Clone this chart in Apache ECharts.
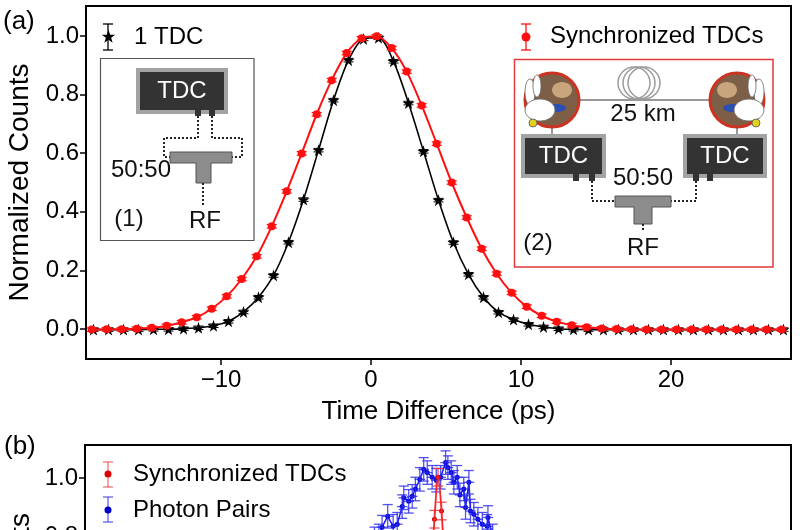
<!DOCTYPE html>
<html>
<head>
<meta charset="utf-8">
<script src="https://cdn.jsdelivr.net/npm/echarts@6/dist/echarts.min.js"></script>
<style>
html, body { margin: 0; padding: 0; background: #fff; }
#main { width: 800px; height: 530px; }
</style>
</head>
<body>
<div id="main"></div>
<script>
// (a) 1 TDC: time difference (ps) and normalized counts
var blackT = [-18.5, -17.5, -16.5, -15.5, -14.5, -13.5, -12.5, -11.5, -10.5, -9.5, -8.5, -7.5, -6.5, -5.5, -4.5, -3.5, -2.5, -1.5, -0.5,
	0.5, 1.5, 2.5, 3.5, 4.5, 5.5, 6.5, 7.5, 8.5, 9.5, 10.5, 11.5, 12.5, 13.5, 14.5, 15.5, 16.5, 17.5, 18.5, 19.5,
	20.5, 21.5, 22.5, 23.5, 24.5, 25.5, 26.5, 27.5];
var blackV = [0.000, 0.000, 0.000, 0.000, 0.001, 0.001, 0.003, 0.006, 0.013, 0.028, 0.060, 0.110, 0.184, 0.297, 0.442, 0.610, 0.780, 0.916, 0.988,
	0.992, 0.912, 0.770, 0.606, 0.440, 0.296, 0.188, 0.110, 0.059, 0.034, 0.018, 0.009, 0.003, 0.001, 0.000, 0.000, 0.000, 0.000, 0.000, 0.000,
	0.000, 0.000, 0.000, 0.000, 0.000, 0.000, 0.000, 0.000];
// (a) Synchronized TDCs
var redT = [-18.62, -17.62, -16.62, -15.62, -14.62, -13.62, -12.62, -11.62, -10.62, -9.62, -8.62, -7.62, -6.62, -5.62, -4.62, -3.62, -2.62, -1.62, -0.62,
	0.38, 1.38, 2.38, 3.38, 4.38, 5.38, 6.38, 7.38, 8.38, 9.38, 10.38, 11.38, 12.38, 13.38, 14.38, 15.38, 16.38, 17.38, 18.38, 19.38,
	20.38, 21.38, 22.38, 23.38, 24.38, 25.38, 26.38, 27.38];
var redV = [0.000, 0.001, 0.001, 0.003, 0.006, 0.013, 0.025, 0.042, 0.071, 0.113, 0.172, 0.249, 0.351, 0.470, 0.599, 0.732, 0.848, 0.940, 0.990,
	0.997, 0.957, 0.877, 0.762, 0.632, 0.500, 0.381, 0.275, 0.190, 0.125, 0.078, 0.047, 0.027, 0.015, 0.008, 0.004, 0.002, 0.001, 0.000, 0.000,
	0.000, 0.000, 0.000, 0.000, 0.000, 0.000, 0.000, 0.000];
var errA = 0.006;

// (b) Synchronized TDCs and photon pairs
var syncT = [-16, -14, -12, -10, -8, -6, -4, -2, 0, 2, 4, 6, 8, 10, 12, 14, 16];
var syncV = [0.003, 0.010, 0.030, 0.088, 0.205, 0.410, 0.668, 0.857, 1.000, 0.885, 0.660, 0.400, 0.200, 0.082, 0.028, 0.009, 0.003];
var pairT = [-60, -55, -50, -45, -42, -39, -36, -33.5, -31.7, -28.5, -25.4, -23.1, -20.3, -19.4, -16.6, -14.6, -12.8, -10.3,
	-8.1, -6.1, -3.3, -1.0, 1.5, 4.3, 5.6, 7.5, 9.0, 10.9, 12.4, 14.6, 15.6, 17.5, 18.4, 20.3, 22.6, 25.1, 27.9, 28.3,
	31, 34, 37, 40, 43, 48, 53, 58];
var pairV = [0.50, 0.56, 0.62, 0.68, 0.72, 0.76, 0.79, 0.80, 0.83, 0.867, 0.833, 0.84, 0.90, 0.93, 0.918, 0.935, 0.96, 0.993,
	1.027, 1.016, 1.0, 0.99, 1.0, 1.05, 1.033, 1.016, 0.983, 1.0, 0.94, 0.96, 0.897, 0.983, 0.885, 0.874, 0.857, 0.84, 0.833, 0.863,
	0.80, 0.77, 0.73, 0.70, 0.66, 0.60, 0.54, 0.48];
var errSync = 0.03, errPair = 0.04, xErrPair = 3;

var FONT = 'Liberation Sans, Arial, sans-serif';
var RED = '#ff1010';
var STAR = 'path://M50,0L61.2,34.5L97.6,34.5L68.2,55.9L79.4,90.5L50,69.1L20.6,90.5L31.8,55.9L2.4,34.5L38.8,34.5Z';

function pairs(xs, ys){
	var out = [];
	for(var i = 0; i < xs.length; i++){
		out.push([xs[i], ys[i]]);
	}
	return out;
}
function withErr(xs, ys, e){
	var out = [];
	for(var i = 0; i < xs.length; i++){
		out.push([xs[i], ys[i], e]);
	}
	return out;
}

// error bars: vertical with caps, optional horizontal bar
function errorBar(color, capW, lw, xErr){
	return function(params, api){
		var x = api.value(0), y = api.value(1), e = api.value(2);
		var top = api.coord([x, y + e]);
		var bot = api.coord([x, y - e]);
		var st = {stroke: color, lineWidth: lw};
		var kids = [
			{type: 'line', shape: {x1: top[0], y1: top[1], x2: bot[0], y2: bot[1]}, style: st},
			{type: 'line', shape: {x1: top[0] - capW, y1: top[1], x2: top[0] + capW, y2: top[1]}, style: st},
			{type: 'line', shape: {x1: bot[0] - capW, y1: bot[1], x2: bot[0] + capW, y2: bot[1]}, style: st}
		];
		if(xErr){
			var l = api.coord([x - xErr, y]), r = api.coord([x + xErr, y]);
			kids.push({type: 'line', shape: {x1: l[0], y1: l[1], x2: r[0], y2: r[1]}, style: st});
		}
		return {type: 'group', children: kids};
	};
}

// graphic helpers
function rect(x, y, w, h, fill, stroke, lw){
	return {type: 'rect', shape: {x: x, y: y, width: w, height: h},
		style: {fill: fill, stroke: stroke || null, lineWidth: lw || 0}};
}
function seg(pts, stroke, lw, dash){
	return {type: 'polyline', shape: {points: pts},
		style: {stroke: stroke, lineWidth: lw, lineDash: dash || null, fill: null}};
}
function txt(x, y, s, size, color, align){
	return {type: 'text', x: x, y: y,
		style: {text: s, fill: color, font: size + 'px ' + FONT, align: align || 'center', verticalAlign: 'middle'}};
}
function circ(cx, cy, r, fill, stroke, lw){
	return {type: 'circle', shape: {cx: cx, cy: cy, r: r},
		style: {fill: fill, stroke: stroke || null, lineWidth: lw || 0}};
}
function ell(cx, cy, rx, ry, fill, stroke){
	return {type: 'ellipse', shape: {cx: cx, cy: cy, rx: rx, ry: ry},
		style: {fill: fill, stroke: stroke || null, lineWidth: stroke ? 0.8 : 0}};
}
function tdc(x, y, w, h){
	return [rect(x, y, w, h, '#a3a3a3'), rect(x + 4, y + 4, w - 8, h - 8, '#333'), txt(x + w / 2, y + h / 2, 'TDC', 24, '#fff')];
}
function splitter(x1, x2, y, sx1, sx2, sy){
	return {type: 'polygon', shape: {points: [[x1, y], [x2, y], [x2, y + 11], [sx2, y + 11], [sx2, sy], [sx1, sy], [sx1, y + 11], [x1, y + 11]]},
		style: {fill: '#8c8c8c', stroke: '#555', lineWidth: 1}};
}
// cartoon node, dir = 1 rabbit on the left side, -1 on the right side
function node(cx, cy, dir){
	return [
		circ(cx, cy, 27, '#7d5f47', '#cc3322', 3),
		ell(cx + 10 * dir, cy - 10, 10, 8, '#c8a57c'),
		ell(cx + 4 * dir, cy + 8, 10, 4, '#2b4fb3'),
		ell(cx - 22 * dir, cy - 8, 5, 13, '#fff', '#666'),
		ell(cx - 15 * dir, cy - 14, 4, 11, '#fff', '#666'),
		ell(cx - 12 * dir, cy + 10, 15, 11, '#fff', '#666'),
		circ(cx - 19 * dir, cy + 23, 4, '#e3d21c', '#555', 0.8)
	];
}

var dot = [2, 2];
var legendStar = [[108.5, 30], [110.15, 34.73], [115.16, 34.84], [111.16, 37.87], [112.61, 42.66], [108.5, 39.8],
	[104.39, 42.66], [105.84, 37.87], [101.84, 34.84], [106.85, 34.73]];
var graphicEls = [].concat(
	// panel labels
	[txt(3, 22, '(a)', 26, '#000', 'left'), txt(4, 447, '(b)', 26, '#000', 'left')],
	// legend (a)
	[seg([[103, 24], [113, 24]], '#000', 1.3), seg([[108, 24], [108, 50]], '#000', 1.3), seg([[103, 50], [113, 50]], '#000', 1.3),
		{type: 'polygon', shape: {points: legendStar}, style: {fill: '#000'}},
		txt(134, 37, '1 TDC', 24, '#000', 'left'),
		seg([[521, 24], [531, 24]], RED, 1.3), seg([[526, 24], [526, 50]], RED, 1.3), seg([[521, 50], [531, 50]], RED, 1.3),
		circ(526, 37, 4.5, RED), txt(550, 36, 'Synchronized TDCs', 24, '#000', 'left')],
	// inset (1)
	[rect(100.5, 58.5, 153.5, 182, '#fff', '#555', 1.2)],
	tdc(136, 68, 92, 46),
	[rect(195, 109, 6, 7, '#333'), rect(209, 109, 6, 7, '#333'),
		seg([[198, 116], [198, 138], [164, 138], [164, 157], [170, 157]], '#222', 2, dot),
		seg([[212, 116], [212, 138], [242, 138], [242, 157], [232, 157]], '#222', 2, dot),
		splitter(170, 232, 152, 196, 211, 183),
		seg([[203, 183], [203, 207]], '#222', 2, dot),
		txt(205, 221, 'RF', 24, '#111'), txt(141, 170, '50:50', 24, '#111'), txt(129, 219, '(1)', 24, '#111')],
	// inset (2)
	[rect(514.5, 59.5, 258.5, 207.5, '#fff', '#e23a3a', 1.5),
		seg([[578, 100], [711, 100]], '#777', 1.5),
		circ(634, 83, 16, null, '#9c9c9c', 1.5), circ(639, 83, 16, null, '#9c9c9c', 1.5), circ(644, 83, 16, null, '#9c9c9c', 1.5),
		txt(643, 114, '25 km', 24, '#111'),
		seg([[552, 127], [552, 134]], '#555', 1.2), seg([[737, 127], [737, 134]], '#555', 1.2)],
	node(552, 100, 1), node(737, 100, -1),
	tdc(521, 134, 85, 44), tdc(683, 134, 84, 44),
	[rect(573, 174, 6, 7, '#333'), rect(589, 174, 6, 7, '#333'), rect(693, 174, 6, 7, '#333'), rect(707, 174, 6, 7, '#333'),
		seg([[592, 181], [592, 201], [615, 201]], '#222', 2, dot),
		seg([[696, 181], [696, 201], [671, 201]], '#222', 2, dot),
		splitter(615, 671, 196, 634, 652, 224),
		seg([[643, 224], [643, 232]], '#222', 2, dot),
		txt(643, 248, 'RF', 24, '#111'), txt(643, 178, '50:50', 24, '#111'), txt(538, 243, '(2)', 24, '#111')],
	// legend (b)
	[seg([[103, 462], [113, 462]], 'rgba(235,70,70,0.75)', 1.3), seg([[108, 462], [108, 487]], 'rgba(235,70,70,0.75)', 1.3),
		seg([[103, 487], [113, 487]], 'rgba(235,70,70,0.75)', 1.3), circ(108, 474, 3.5, '#dd0000'),
		txt(133, 474, 'Synchronized TDCs', 24, '#000', 'left'),
		seg([[103, 497], [113, 497]], 'rgba(60,60,235,0.8)', 1.3), seg([[108, 497], [108, 522]], 'rgba(60,60,235,0.8)', 1.3),
		seg([[103, 522], [113, 522]], 'rgba(60,60,235,0.8)', 1.3), circ(108, 510, 3.5, '#0000cc'),
		txt(133, 510, 'Photon Pairs', 24, '#000', 'left'),
		{type: 'text', x: 21, y: 632, rotation: Math.PI / 2,
			style: {text: 'Normalized Counts', fill: '#000', font: '28px ' + FONT, align: 'center', verticalAlign: 'middle'}}]
);

var hidden = {axisLine: {show: false, onZero: false}, axisTick: {show: false}, axisLabel: {show: false}, splitLine: {show: false}};
var noLine = {show: false, onZero: false};
var tickStyle = {show: true, inside: false, length: 6, lineStyle: {color: '#000', width: 1.5}};

var myChart = echarts.init(document.getElementById('main'));
var option = {
	animation: false,
	backgroundColor: '#fff',
	textStyle: {fontFamily: FONT},
	grid: [
		{left: 86, top: 6, width: 705, height: 353, show: true, borderColor: '#000', borderWidth: 2, outerBoundsMode: 'none'},
		{left: 221, top: 36, width: 450, height: 293, outerBoundsMode: 'none'},
		{left: 85, top: 445, width: 706, height: 355, show: true, borderColor: '#000', borderWidth: 2, outerBoundsMode: 'none'},
		{left: 85, top: 478, width: 706, height: 293, outerBoundsMode: 'none'}
	]
};
option.xAxis = [
	Object.assign({gridIndex: 0, type: 'value', min: -19, max: 28, name: 'Time Difference (ps)', nameLocation: 'middle', nameGap: 40,
		nameTextStyle: {fontSize: 26, color: '#000'}}, hidden),
	{gridIndex: 1, type: 'value', min: -10, max: 20, interval: 10, offset: 30,
		axisLine: noLine, axisTick: tickStyle, splitLine: {show: false},
		axisLabel: {fontSize: 24, color: '#000', margin: 9, formatter: function(v){ return String(v).replace('-', '\u2212'); }}},
	Object.assign({gridIndex: 2, type: 'value', min: -200, max: 200}, hidden),
	Object.assign({gridIndex: 3, type: 'value', min: -200, max: 200}, hidden)
];
option.yAxis = [
	Object.assign({gridIndex: 0, type: 'value', min: -0.1, max: 1.1, name: 'Normalized Counts', nameLocation: 'middle', nameGap: 52,
		nameTextStyle: {fontSize: 28, color: '#000'}}, hidden),
	{gridIndex: 1, type: 'value', min: 0, max: 1, interval: 0.2, offset: 135,
		axisLine: noLine, axisTick: tickStyle, splitLine: {show: false},
		axisLabel: {fontSize: 24, color: '#000', margin: 7, formatter: function(v){ return v.toFixed(1); }}},
	Object.assign({gridIndex: 2, type: 'value', min: -0.1, max: 1.11}, hidden),
	{gridIndex: 3, type: 'value', min: 0, max: 1, interval: 0.2,
		axisLine: noLine, axisTick: tickStyle, splitLine: {show: false},
		axisLabel: {fontSize: 24, color: '#000', margin: 7, formatter: function(v){ return v.toFixed(1); }}}
];
option.series = [
	{name: '1 TDC', type: 'line', xAxisIndex: 0, yAxisIndex: 0, data: pairs(blackT, blackV), smooth: 0.3,
		symbol: STAR, symbolSize: 12, itemStyle: {color: '#000'}, lineStyle: {color: '#000', width: 1.6}, z: 2},
	{type: 'custom', xAxisIndex: 0, yAxisIndex: 0, data: withErr(blackT, blackV, errA), encode: {x: 0, y: 1},
		renderItem: errorBar('#000', 5, 1), z: 3},
	{name: 'Synchronized TDCs', type: 'line', xAxisIndex: 0, yAxisIndex: 0, data: pairs(redT, redV), smooth: 0.3,
		symbol: 'circle', symbolSize: 8, itemStyle: {color: RED}, lineStyle: {color: RED, width: 2}, z: 4},
	{type: 'custom', xAxisIndex: 0, yAxisIndex: 0, data: withErr(redT, redV, errA), encode: {x: 0, y: 1},
		renderItem: errorBar(RED, 5, 1.2), z: 5},
	{name: 'Photon Pairs', type: 'line', xAxisIndex: 2, yAxisIndex: 2, data: pairs(pairT, pairV),
		symbol: 'circle', symbolSize: 5, itemStyle: {color: '#0000cc'}, lineStyle: {color: '#1a1aff', width: 1.5}, z: 2, clip: false},
	{type: 'custom', xAxisIndex: 2, yAxisIndex: 2, data: withErr(pairT, pairV, errPair), encode: {x: 0, y: 1},
		renderItem: errorBar('rgba(40,40,240,0.8)', 5, 1.3, xErrPair), z: 3, clip: false},
	{name: 'Synchronized TDCs (b)', type: 'line', xAxisIndex: 2, yAxisIndex: 2, data: pairs(syncT, syncV), smooth: 0.3,
		symbol: 'circle', symbolSize: 5, itemStyle: {color: '#dd0000'}, lineStyle: {color: '#ff2020', width: 1.8}, z: 4, clip: false},
	{type: 'custom', xAxisIndex: 2, yAxisIndex: 2, data: withErr(syncT, syncV, errSync), encode: {x: 0, y: 1},
		renderItem: errorBar('rgba(240,50,50,0.85)', 5, 1.3, 0.8), z: 5, clip: false}
];
option.graphic = {elements: graphicEls};
myChart.setOption(option);
</script>
</body>
</html>
